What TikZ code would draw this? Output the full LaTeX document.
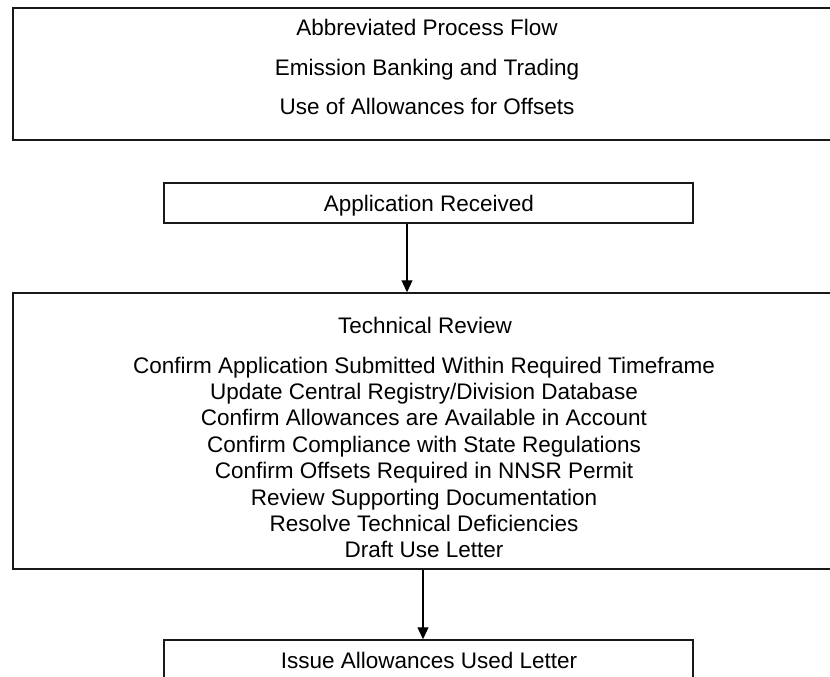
\documentclass[tikz,border=0pt]{standalone}
\usepackage{fontspec}
\setmainfont{Liberation Sans}
\usetikzlibrary{arrows.meta}
\begin{document}
\begin{tikzpicture}[x=1pt,y=-1pt,
  boxframe/.style={draw=black!90,line width=1.5pt,inner sep=0pt,minimum width=#1},
  txt/.style={anchor=base,inner sep=0pt,font=\fontsize{22.5}{26.4}\selectfont},
  arr/.style={draw=black,line width=1.2pt,-{Triangle[length=12pt,width=11pt]}}]
\useasboundingbox (0,0) rectangle (830,677);
\clip (0,0) rectangle (830,677);
% boxes
\node[boxframe=832pt,minimum height=132pt] (top) at (429,74) {};
\node[boxframe=529pt,minimum height=40pt] (app) at (428.5,203) {};
\node[boxframe=832pt,minimum height=276pt] (tech) at (429,431) {};
\node[boxframe=529pt,minimum height=80pt] (iss) at (428.5,680) {};
% texts
\node[txt] (h1) at (427,36) {Abbreviated Process Flow};
\node[txt] (h2) at (427,75) {Emission Banking and Trading};
\node[txt] (h3) at (427,114) {Use of Allowances for Offsets};
\node[txt] (apptxt) at (429,211) {Application Received};
\node[txt] (techtitle) at (425,333) {Technical Review};
\node[txt] (t1) at (424,373) {Confirm Application Submitted Within Required Timeframe};
\node[txt] (t2) at (424,399.4) {Update Central Registry/Division Database};
\node[txt] (t3) at (424,425.8) {Confirm Allowances are Available in Account};
\node[txt] (t4) at (424,452.2) {Confirm Compliance with State Regulations};
\node[txt] (t5) at (424,478.6) {Confirm Offsets Required in NNSR Permit};
\node[txt] (t6) at (424,505) {Review Supporting Documentation};
\node[txt] (t7) at (424,531.4) {Resolve Technical Deficiencies};
\node[txt] (t8) at (424,557.8) {Draft Use Letter};
\node[txt] (isstxt) at (429,668) {Issue Allowances Used Letter};
% connectors
\coordinate (ax1) at (407,0);
\coordinate (ax2) at (423,0);
\draw[arr] (app.south -| ax1) -- (tech.north -| ax1);
\draw[arr] (tech.south -| ax2) -- (iss.north -| ax2);
\end{tikzpicture}
\end{document}
